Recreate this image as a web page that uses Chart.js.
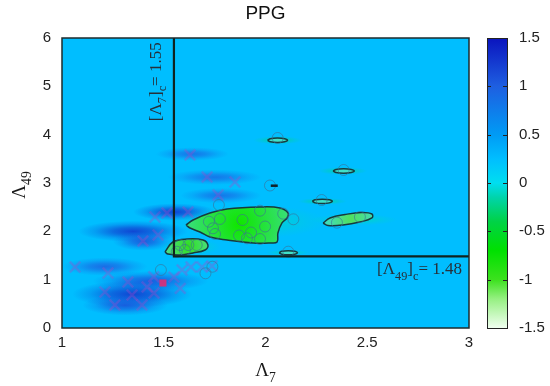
<!DOCTYPE html>
<html>
<head>
<meta charset="utf-8">
<script src="https://cdn.jsdelivr.net/npm/chart.js@4.4.0/dist/chart.umd.min.js"></script>
<style>
html, body { margin: 0; padding: 0; background: #fff; }
#wrap { width: 550px; height: 386px; }
</style>
</head>
<body>
<div id="wrap"><canvas id="ppg_chart"></canvas></div>
<script>
// critical values
const cutX = 1.55;
const cutY = 1.48;

// colour bar
const cbTicks = [-1.5, -1, -0.5, 0, 0.5, 1, 1.5];
const bgValue = 0.25;

// smeared patches of the map (x range, y range, value)
const smearX0 = [1.00, 1.15, 1.05, 1.10, 1.08, 1.25, 1.35, 1.58, 1.52, 1.46, 1.55, 1.94, 2.26, 2.16, 2.00, 2.22, 1.48];
const smearX1 = [1.42, 1.72, 1.64, 1.52, 1.62, 1.55, 1.76, 1.98, 1.98, 1.82, 2.30, 2.18, 2.50, 2.40, 2.22, 2.65, 1.78];
const smearY0 = [1.08, 0.76, 0.42, 0.26, 1.78, 1.60, 2.22, 2.58, 2.96, 3.46, 1.85, 3.80, 3.17, 2.55, 1.50, 2.12, 1.50];
const smearY1 = [1.46, 1.18, 0.98, 0.68, 2.22, 1.98, 2.58, 2.90, 3.28, 3.74, 2.55, 3.97, 3.33, 2.69, 1.62, 2.36, 1.85];
const smearV  = [1.0, 1.1, 1.3, 1.1, 1.3, 1.1, 1.3, 0.9, 0.9, 0.9, -0.1, -0.2, -0.2, -0.2, -0.1, -0.1, -0.1];

// contours
const bigX = [1.609, 1.644, 1.727, 1.811, 1.973, 2.071, 2.111, 2.106, 2.081, 2.061, 2.057, 2.022, 1.939, 1.811, 1.727, 1.678, 1.629, 1.609];
const bigY = [2.131, 2.235, 2.379, 2.462, 2.504, 2.483, 2.379, 2.276, 2.173, 1.966, 1.779, 1.759, 1.759, 1.821, 1.883, 1.986, 2.069, 2.131];
const smallX = [1.506, 1.545, 1.614, 1.693, 1.717, 1.703, 1.644, 1.580, 1.521, 1.506];
const smallY = [1.573, 1.779, 1.841, 1.821, 1.717, 1.614, 1.552, 1.510, 1.531, 1.573];
const rightX = [2.283, 2.317, 2.391, 2.474, 2.523, 2.523, 2.464, 2.381, 2.307, 2.283];
const rightY = [2.173, 2.276, 2.348, 2.390, 2.359, 2.276, 2.193, 2.131, 2.121, 2.173];
const e1X = [2.010, 2.024, 2.059, 2.094, 2.108, 2.094, 2.059, 2.024, 2.010];
const e1Y = [3.885, 3.917, 3.930, 3.917, 3.885, 3.853, 3.840, 3.853, 3.885];
const e2X = [2.332, 2.347, 2.384, 2.421, 2.436, 2.421, 2.384, 2.347, 2.332];
const e2Y = [3.249, 3.281, 3.294, 3.281, 3.249, 3.217, 3.204, 3.217, 3.249];
const e3X = [2.230, 2.244, 2.279, 2.314, 2.328, 2.314, 2.279, 2.244, 2.230];
const e3Y = [2.621, 2.653, 2.666, 2.653, 2.621, 2.589, 2.576, 2.589, 2.621];
const e4X = [2.067, 2.080, 2.112, 2.144, 2.157, 2.144, 2.112, 2.080, 2.067];
const e4Y = [1.556, 1.586, 1.598, 1.586, 1.556, 1.526, 1.514, 1.526, 1.556];

// open circles
const circX = [1.771, 1.776, 1.722, 1.742, 1.887, 1.973, 1.998, 1.929, 1.870, 1.909, 1.973, 1.752, 2.087, 2.137, 1.580, 1.621, 1.662, 1.604, 1.564, 2.112, 2.022, 2.276, 2.464, 2.351, 2.060, 2.384, 1.486, 1.705, 1.739];
const circY = [2.545, 2.255, 2.199, 2.063, 2.235, 2.427, 2.100, 1.976, 1.914, 1.856, 1.841, 1.945, 2.365, 2.249, 1.717, 1.717, 1.717, 1.614, 1.579, 1.579, 2.948, 2.648, 2.297, 2.179, 3.931, 3.269, 1.200, 1.132, 1.268];

// crosses
const crossX = [1.064, 1.226, 1.324, 1.211, 1.260, 1.344, 1.418, 1.452, 1.550, 1.590, 1.634, 1.688, 1.737, 1.398, 1.457, 1.472, 1.516, 1.619, 1.629, 1.713, 1.767, 1.850, 1.581, 1.393, 1.451];
const crossY = [1.262, 1.138, 0.952, 0.745, 0.476, 0.683, 0.848, 0.724, 1.055, 1.200, 1.262, 1.262, 1.283, 1.800, 2.297, 1.924, 2.379, 2.400, 3.579, 3.124, 2.752, 3.021, 0.821, 0.476, 1.061];
const redX = [1.496];
const redY = [0.931];
const dashX = [2.043];
const dashY = [2.944];

const SANS = '"Liberation Sans", Arial, sans-serif';
const SERIF = '"Liberation Serif", "Times New Roman", serif';

const palette = [
	[-1.5, 240, 255, 240],
	[-1.2, 150, 240, 130],
	[-1.0, 60, 225, 30],
	[-0.7, 0, 225, 0],
	[-0.4, 0, 210, 70],
	[-0.15, 0, 212, 170],
	[0.0, 0, 222, 240],
	[0.25, 0, 190, 255],
	[0.5, 0, 155, 245],
	[1.0, 30, 95, 225],
	[1.5, 10, 20, 190]
];

function valueColor(v, a) {
	let lo = palette[0], hi = palette[palette.length - 1];
	for (let i = 0; i < palette.length - 1; i++) {
		if (v >= palette[i][0] && v <= palette[i + 1][0]) { lo = palette[i]; hi = palette[i + 1]; break; }
	}
	const t = hi[0] === lo[0] ? 0 : (v - lo[0]) / (hi[0] - lo[0]);
	const c = [1, 2, 3].map(k => Math.round(lo[k] + (hi[k] - lo[k]) * t));
	return 'rgba(' + c[0] + ',' + c[1] + ',' + c[2] + ',' + a + ')';
}

function pts(xs, ys) {
	return xs.map((x, i) => ({x: x, y: ys[i]}));
}

function blobFill(cx, cy, inner, outer, r) {
	return function (c) {
		const chart = c.chart;
		if (!chart.chartArea) return outer;
		const px = chart.scales.x.getPixelForValue(cx);
		const py = chart.scales.y.getPixelForValue(cy);
		const g = chart.ctx.createRadialGradient(px, py, 1, px, py, r);
		g.addColorStop(0, inner);
		g.addColorStop(1, outer);
		return g;
	};
}

function contour(xs, ys, fillColor) {
	return {
		type: 'line',
		data: pts(xs, ys),
		showLine: true,
		fill: 'shape',
		backgroundColor: fillColor,
		borderColor: '#173a3e',
		borderWidth: 1.5,
		tension: 0.4,
		pointRadius: 0,
		order: 4
	};
}

// measure / draw text with subscripts
function richWidth(ctx, parts, size) {
	let w = 0;
	for (const p of parts) {
		ctx.font = (p[1] ? size * 0.72 : size) + 'px ' + SERIF;
		w += ctx.measureText(p[0]).width;
	}
	return w;
}
function drawRich(ctx, parts, x, y, size) {
	let cx = x;
	for (const p of parts) {
		ctx.font = (p[1] ? size * 0.72 : size) + 'px ' + SERIF;
		ctx.fillText(p[0], cx, p[1] ? y + size * 0.3 : y);
		cx += ctx.measureText(p[0]).width;
	}
}

const mapPlugin = {
	id: 'map',
	beforeDatasetsDraw(chart) {
		const ctx = chart.ctx, a = chart.chartArea;
		const xs = chart.scales.x, ys = chart.scales.y;
		ctx.save();
		ctx.beginPath();
		ctx.rect(a.left, a.top, a.width, a.height);
		ctx.clip();
		ctx.fillStyle = valueColor(bgValue, 1);
		ctx.fillRect(a.left, a.top, a.width, a.height);
		for (let i = 0; i < smearV.length; i++) {
			const x0 = xs.getPixelForValue(smearX0[i]), x1 = xs.getPixelForValue(smearX1[i]);
			const y0 = ys.getPixelForValue(smearY0[i]), y1 = ys.getPixelForValue(smearY1[i]);
			ctx.save();
			ctx.translate((x0 + x1) / 2, (y0 + y1) / 2);
			ctx.scale(Math.abs(x1 - x0) / 2, Math.abs(y1 - y0) / 2);
			const g = ctx.createRadialGradient(0, 0, 0, 0, 0, 1);
			g.addColorStop(0, valueColor(smearV[i], 0.85));
			g.addColorStop(0.35, valueColor(smearV[i], 0.6));
			g.addColorStop(0.7, valueColor(smearV[i], 0.22));
			g.addColorStop(1, valueColor(smearV[i], 0));
			ctx.fillStyle = g;
			ctx.beginPath();
			ctx.arc(0, 0, 1, 0, Math.PI * 2);
			ctx.fill();
			ctx.restore();
		}
		ctx.restore();
	},
	afterDatasetsDraw(chart) {
		const ctx = chart.ctx, a = chart.chartArea;
		ctx.save();
		ctx.strokeStyle = '#1d2b2e';
		ctx.lineWidth = 1.5;
		ctx.strokeRect(a.left, a.top, a.width, a.height);
		ctx.restore();
	},
	afterDraw(chart) {
		const ctx = chart.ctx, a = chart.chartArea;
		const xs = chart.scales.x, ys = chart.scales.y, cb = chart.scales.cb;
		ctx.save();

		// title
		ctx.fillStyle = '#111';
		ctx.font = '19px ' + SANS;
		ctx.textAlign = 'center';
		ctx.textBaseline = 'middle';
		ctx.fillText('PPG', (a.left + a.right) / 2, 14);
		ctx.textAlign = 'left';

		// colour bar
		const bl = cb.left + 18, bw = 20;
		const bt = cb.getPixelForValue(1.5), bb = cb.getPixelForValue(-1.5);
		const g = ctx.createLinearGradient(0, bb, 0, bt);
		for (const p of palette) {
			g.addColorStop((p[0] + 1.5) / 3, valueColor(p[0], 1));
		}
		ctx.fillStyle = g;
		ctx.fillRect(bl, bt, bw, bb - bt);
		ctx.strokeStyle = '#222';
		ctx.lineWidth = 1;
		ctx.strokeRect(bl + 0.5, bt + 0.5, bw, bb - bt);
		ctx.beginPath();
		for (const t of cbTicks) {
			const py = Math.round(cb.getPixelForValue(t)) + 0.5;
			ctx.moveTo(bl, py); ctx.lineTo(bl + 4, py);
			ctx.moveTo(bl + bw - 4, py); ctx.lineTo(bl + bw, py);
		}
		ctx.stroke();

		// axis titles
		ctx.fillStyle = '#1a1a1a';
		ctx.textBaseline = 'alphabetic';
		const xt = [['Λ', false], ['7', true]];
		const cxm = (a.left + a.right) / 2;
		drawRich(ctx, xt, cxm - richWidth(ctx, xt, 19) / 2, 376, 19);
		const yt = [['Λ', false], ['49', true]];
		ctx.save();
		ctx.translate(25, (a.top + a.bottom) / 2 + 2);
		ctx.rotate(-Math.PI / 2);
		drawRich(ctx, yt, -richWidth(ctx, yt, 19) / 2, 0, 19);
		ctx.restore();

		// critical value labels
		ctx.fillStyle = '#26303a';
		const vt = [['[Λ', false], ['7', true], [']', false], ['c', true], ['= 1.55', false]];
		ctx.save();
		ctx.translate(xs.getPixelForValue(cutX) - 13, ys.getPixelForValue(4.28));
		ctx.rotate(-Math.PI / 2);
		drawRich(ctx, vt, 0, 0, 17);
		ctx.restore();
		const ht = [['[Λ', false], ['49', true], [']', false], ['c', true], ['= 1.48', false]];
		drawRich(ctx, ht, a.right - 7 - richWidth(ctx, ht, 17), ys.getPixelForValue(cutY) + 18, 17);

		ctx.restore();
	}
};

const ctx = document.getElementById('ppg_chart').getContext('2d');

const ppg_chart = new Chart(ctx, {
	type: 'scatter',
	data: {
		datasets: [{
			label: 'cut',
			type: 'line',
			data: [{x: cutX, y: 6}, {x: cutX, y: cutY}, {x: 3, y: cutY}],
			showLine: true,
			fill: false,
			borderColor: '#0f2320',
			borderWidth: 2.2,
			pointRadius: 0,
			tension: 0,
			order: 0
		}, {
			label: 'dash',
			data: pts(dashX, dashY),
			pointStyle: 'line',
			pointRadius: 3.5,
			borderWidth: 2.5,
			borderColor: '#10202a',
			order: 1
		}, {
			label: 'circles',
			data: pts(circX, circY),
			pointStyle: 'circle',
			pointRadius: 5.5,
			borderWidth: 1,
			borderColor: 'rgba(60,110,150,0.6)',
			backgroundColor: 'rgba(0,0,0,0)',
			order: 2
		}, {
			label: 'red',
			data: pts(redX, redY),
			pointStyle: 'rect',
			pointRadius: 5,
			borderWidth: 0,
			backgroundColor: 'rgba(235,40,110,0.85)',
			order: 3
		}, {
			label: 'crosses',
			data: pts(crossX, crossY),
			pointStyle: 'crossRot',
			pointRadius: 7.5,
			borderWidth: 2.5,
			borderColor: 'rgba(170,70,200,0.33)',
			order: 3
		},
		contour(bigX, bigY, blobFill(1.87, 2.15, '#10e600', '#40dd90', 60)),
		contour(smallX, smallY, blobFill(1.62, 1.70, '#30e020', '#50dd90', 24)),
		contour(rightX, rightY, blobFill(2.42, 2.26, '#50e060', '#40dcc0', 26)),
		contour(e1X, e1Y, '#40e0c8'),
		contour(e2X, e2Y, '#40e0c8'),
		contour(e3X, e3Y, '#40e0c8'),
		contour(e4X, e4Y, '#40e0c8')
		]
	},
	options: {
		responsive: true,
		maintainAspectRatio: false,
		animation: false,
		layout: { padding: { top: 38, left: 0, right: 0, bottom: 0 } },
		plugins: {
			legend: { display: false },
			tooltip: { enabled: false },
			title: { display: false }
		},
		scales: {
			x: {
				type: 'linear',
				min: 1,
				max: 3,
				grid: { display: false, drawTicks: false },
				border: { display: false },
				ticks: {
					stepSize: 0.5,
					padding: 6,
					color: '#222',
					font: { family: SANS, size: 15 },
					maxRotation: 0,
					callback: function (v) { return String(v); }
				},
				afterFit: function (s) { s.height = 58; }
			},
			y: {
				type: 'linear',
				min: 0,
				max: 6,
				grid: { display: false, drawTicks: false },
				border: { display: false },
				ticks: {
					stepSize: 1,
					padding: 11,
					color: '#222',
					font: { family: SANS, size: 15 },
					callback: function (v) { return String(v); }
				},
				afterFit: function (s) { s.width = 62; }
			},
			cb: {
				type: 'linear',
				position: 'right',
				min: -1.5,
				max: 1.5,
				grid: {
					display: true,
					drawOnChartArea: false,
					drawTicks: true,
					tickLength: 50,
					tickColor: 'rgba(0,0,0,0)'
				},
				border: { display: false },
				ticks: {
					stepSize: 0.5,
					padding: 0,
					color: '#222',
					font: { family: SANS, size: 15 },
					callback: function (v) { return String(v); }
				},
				afterFit: function (s) { s.width = 81; }
			}
		}
	},
	plugins: [mapPlugin]
});
</script>
</body>
</html>
